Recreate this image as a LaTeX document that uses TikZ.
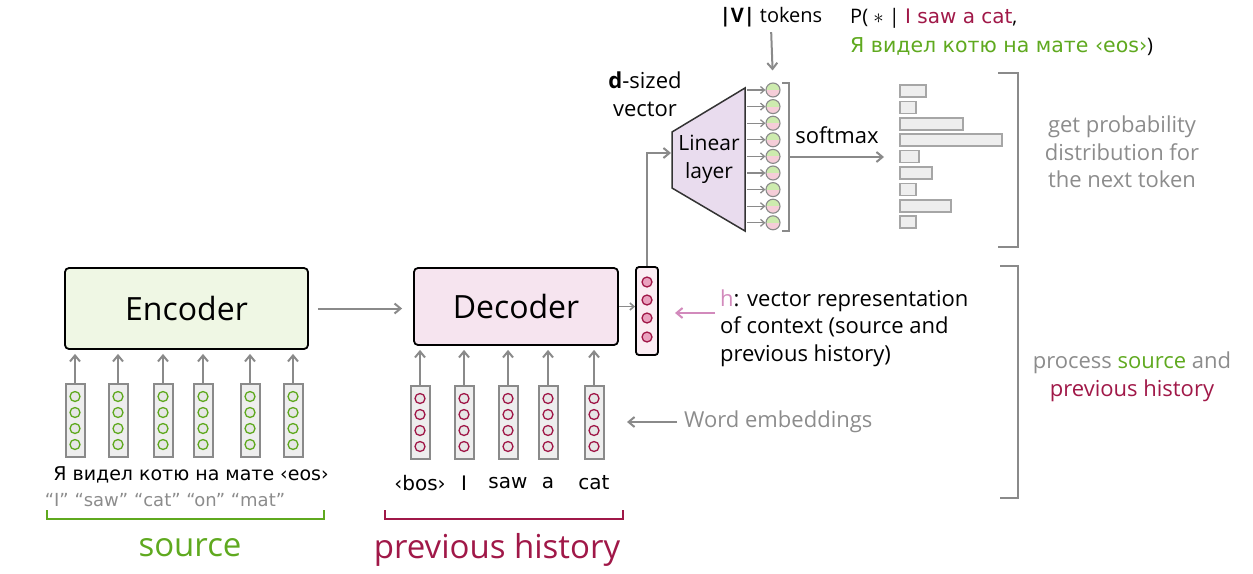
\documentclass[tikz,border=0pt]{standalone}
\usepackage{fontspec}
\setmainfont{Open Sans}
\newfontfamily\comicfont{DejaVu Sans}
\usetikzlibrary{positioning,arrows.meta}
\definecolor{srcgreen}{HTML}{5FA91F}
\definecolor{histred}{HTML}{A01848}
\definecolor{hpink}{HTML}{D28ABC}
\definecolor{encfill}{HTML}{EFF7E4}
\definecolor{decfill}{HTML}{F6E4EF}
\definecolor{hfill}{HTML}{FBEDF3}
\definecolor{hdot}{HTML}{EAA2BF}
\definecolor{linfill}{HTML}{E9DCEE}
\definecolor{arrgray}{HTML}{8A8A8A}
\definecolor{txtgray}{HTML}{8C8C8C}
\definecolor{vecfill}{HTML}{EEEEEE}
\definecolor{dotfill}{HTML}{E6E6E6}
\definecolor{outgreen}{HTML}{CDEBAE}
\definecolor{outpink}{HTML}{F5CDD8}
\begin{document}
\begin{tikzpicture}[x=1pt,y=-1pt,
  arr/.style={draw=arrgray,line width=2pt,-{Straight Barb[length=6pt,width=10pt]}},
  thinarr/.style={draw=arrgray,line width=1.3pt,-{Straight Barb[length=4pt,width=7pt]}},
  encbox/.style={draw=black,line width=1.8pt,rounded corners=4pt,fill=encfill,
    minimum width=243pt,minimum height=81pt,font=\fontsize{32}{36}\selectfont},
  decbox/.style={encbox,fill=decfill,minimum width=204pt,minimum height=77pt},
  vecbox/.style={draw=arrgray,line width=2pt,fill=vecfill,minimum width=19pt,
    minimum height=73pt,inner sep=0pt},
  unitcirc/.style={circle,draw=#1,line width=1.3pt,fill=dotfill,minimum size=10pt,inner sep=0pt},
  outcirc/.style={circle,draw=arrgray,line width=1.1pt,minimum size=14pt,inner sep=0pt,fill=outgreen,
    path picture={\fill[outpink] (path picture bounding box.west) rectangle (path picture bounding box.south east);}},
  barbox/.style={draw=gray!70,line width=1.6pt,fill=vecfill},
  brack/.style={draw=arrgray,line width=2pt},
  lbl/.style={font=\fontsize{22}{27.5}\selectfont,inner sep=0pt},
  word/.style={font=\comicfont\fontsize{20}{22}\selectfont,inner sep=0pt},
]
\useasboundingbox (0,0) rectangle (1253,573);

% Encoder and decoder
\node[encbox] (enc) at (186.5,308.5) {Encoder};
\node[decbox] (dec) at (516,306.5) {Decoder};
\node[draw=black,line width=1.8pt,rounded corners=3pt,fill=hfill,minimum width=22pt,
  minimum height=88pt,inner sep=0pt] (hvec) at (647,311) {};
\foreach \k in {-29,-11,7,26}
  \node[unitcirc=histred,fill=hdot] at (647,{311+\k}) {};
\draw[arr,shorten <=9pt,shorten >=11pt] (enc.east) -- (enc.east -| dec.west);
\draw[thinarr,line width=1.6pt] (dec.east) -- (dec.east -| hvec.west);

% Source embeddings
\foreach \x [count=\i] in {75,118,163,203,250,293} {
  \node[vecbox] (e\i) at (\x,420.5) {};
  \foreach \k in {-24,-8,8,24}
    \node[unitcirc=srcgreen] at (\x,{420.5+\k}) {};
  \draw[arr,shorten >=4pt] (e\i.north) -- (e\i.north |- enc.south);
}
\node[word,font=\comicfont\fontsize{19}{22}\selectfont] (srcwords) at (191,475) {Я видел котю на мате ‹eos›};
\node[word,text=txtgray,font=\comicfont\fontsize{18}{20}\selectfont] (srcgloss) at (165,500) {“I” “saw” “cat” “on” “mat”};
\draw[brack,srcgreen] (47,510) -- (47,519) -- (324,519) -- (324,510);
\node[lbl,text=srcgreen,font=\fontsize{33}{36}\selectfont] (src) at (190,548) {source};

% Target embeddings
\foreach \x/\w [count=\i] in {420/‹bos›,464/I,508/saw,548/a,594/cat} {
  \node[vecbox] (d\i) at (\x,422.5) {};
  \foreach \k in {-24,-8,8,24}
    \node[unitcirc=histred] at (\x,{422.5+\k}) {};
  \draw[arr,shorten >=4pt] (d\i.north) -- (d\i.north |- dec.south);
  \node[word] (w\i) at (\x,483) {\w};
}
\draw[brack,histred] (385,510) -- (385,519) -- (623,519) -- (623,510);
\node[lbl,text=histred,font=\fontsize{33}{36}\selectfont] (hist) at (497,550) {previous history};

% Labels in the middle
\node[lbl,anchor=west,align=left] (htext) at (720,328) {{\color{hpink}h}: vector representation\\of context (source and\\previous history)};
\coordinate (hfrom) at (715,313);
\coordinate (hto) at (675,313);
\draw[arr,draw=hpink] (hfrom) -- (hto);
\node[lbl,anchor=west,text=txtgray] (we) at (684,422) {Word embeddings};
\coordinate (weto) at (627,422);
\draw[arr] (we.west) ++(-7,0) -- (weto);

% Linear layer
\draw[draw=black!80,line width=1.5pt,fill=linfill] (672,132) -- (745,88) -- (745,231) -- (672,188) -- cycle;
\coordinate (linin) at (671,153);
\coordinate (linout) at (745,88);
\node[lbl,align=center,font=\fontsize{21}{28}\selectfont] (lin) at (709,159) {Linear\\layer};
\draw[arr] (hvec.north) |- (linin);
\node[lbl,align=center,font=\fontsize{22}{28}\selectfont] (dvec) at (645,94) {\textbf{d}-sized\\vector};

% Output units
\foreach \i in {1,...,9} {
  \node[outcirc] (o\i) at (773,{90+16.6*(\i-1)}) {};
  \draw[thinarr,shorten <=2pt] (o\i.west -| linout) -- (o\i.west);
}
\node[lbl,font=\fontsize{20}{24}\selectfont] (vtok) at (771,17) {\textbf{|V|} tokens};
\draw[arr,shorten <=5pt,shorten >=12pt] (vtok.south) -- (o1.north);
\draw[brack,line width=1.6pt] (782,83) -- (789,83) -- (789,231) -- (782,231);
\coordinate (smfrom) at (789,157);
\coordinate (smto) at (884,157);
\draw[arr] (smfrom) -- (smto);
\node[lbl] (smax) at (837,135) {softmax};

% Distribution
\foreach \w [count=\i] in {26,16,63,102,19,32,16,51,16}
  \draw[barbox] (900,{85+16.4*(\i-1)}) rectangle ++(\w,12);
\node[lbl,anchor=west,font=\fontsize{20}{26}\selectfont] (prob) at (850,18) {P( $*$ | {\comicfont\color{histred}I saw a cat},};
\node[lbl,anchor=west,font=\fontsize{20}{26}\selectfont] (prob2) at (850,47) {{\comicfont\fontsize{20.5}{26}\selectfont\color{srcgreen}Я видел котю на мате ‹eos›})};

% Right brackets
\draw[brack] (998,73) -- (1018,73) -- (1018,247) -- (998,247);
\node[lbl,align=center,text=txtgray] (gettxt) at (1122,152) {get probability\\distribution for\\the next token};
\draw[brack] (1000,266) -- (1018,266) -- (1018,498) -- (1000,498);
\node[lbl,align=center,text=txtgray] (proctxt) at (1132,377) {process {\color{srcgreen}source} and\\{\color{histred}previous history}};

\end{tikzpicture}
\end{document}
